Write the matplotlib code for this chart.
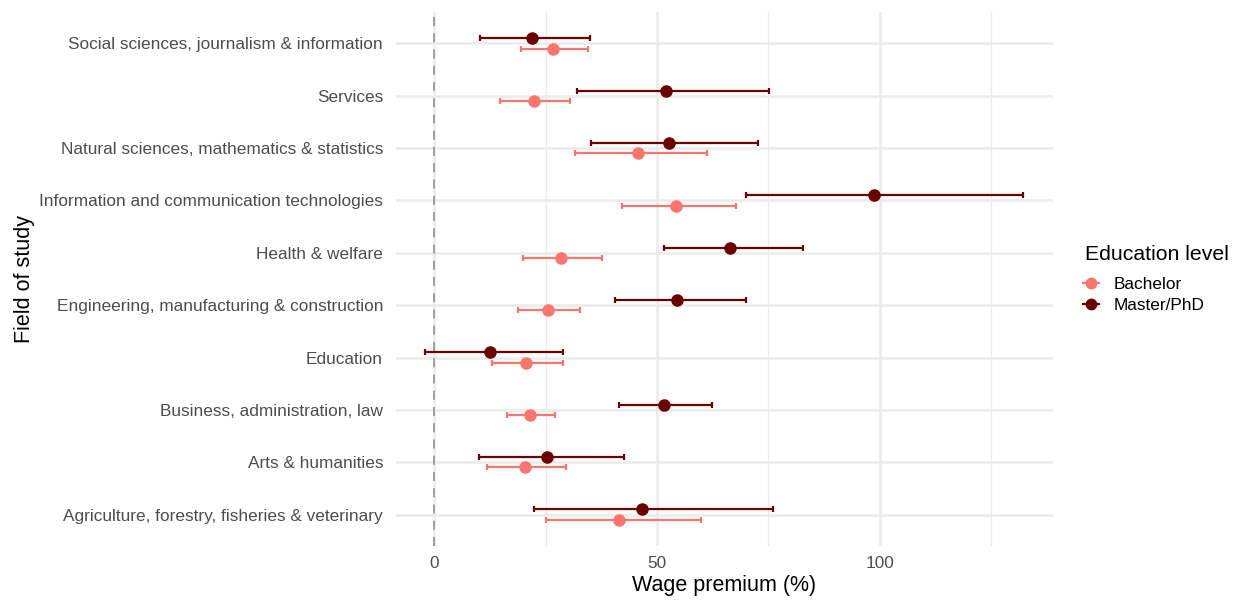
import numpy as np
import matplotlib.pyplot as plt
from matplotlib.lines import Line2D

plt.rcParams['font.family'] = ['Liberation Sans', 'DejaVu Sans']

# Fields of study, bottom to top as drawn
fields = [
    "Agriculture, forestry, fisheries & veterinary",
    "Arts & humanities",
    "Business, administration, law",
    "Education",
    "Engineering, manufacturing & construction",
    "Health & welfare",
    "Information and communication technologies",
    "Natural sciences, mathematics & statistics",
    "Services",
    "Social sciences, journalism & information",
]

# Wage premium estimates (%) with 95% confidence bounds
bachelor_est = [41.4, 20.3, 21.6, 20.6, 25.5, 28.4, 54.3, 45.8, 22.4, 26.7]
bachelor_lo = [25.1, 11.8, 16.3, 12.9, 18.8, 19.9, 42.1, 31.7, 14.7, 19.4]
bachelor_hi = [59.8, 29.5, 27.2, 28.9, 32.7, 37.7, 67.7, 61.3, 30.5, 34.5]

master_est = [46.7, 25.2, 51.7, 12.4, 54.6, 66.4, 98.7, 52.7, 52.0, 21.9]
master_lo = [22.3, 10.0, 41.5, -2.0, 40.6, 51.7, 69.9, 35.1, 32.0, 10.3]
master_hi = [76.1, 42.7, 62.4, 28.9, 70.1, 82.8, 132.2, 72.8, 75.1, 34.9]

levels = ["Bachelor", "Master/PhD"]
colors = {"Bachelor": "#F8766D", "Master/PhD": "#6B0000"}

fig = plt.figure(figsize=(12.4, 6), dpi=100)
ax = fig.add_axes([0.319, 0.09, 0.530, 0.89])

y = np.arange(len(fields))
series = {
    "Bachelor": (bachelor_est, bachelor_lo, bachelor_hi, -0.1),
    "Master/PhD": (master_est, master_lo, master_hi, 0.1),
}

ax.axvline(0, color="#9A9A9A", linestyle=(0, (5, 4)), linewidth=1.3, zorder=1)

for lvl in levels:
    est, lo, hi, off = series[lvl]
    est = np.array(est)
    err = [est - np.array(lo), np.array(hi) - est]
    ax.errorbar(est, y + off, xerr=err, fmt="o", color=colors[lvl],
                ecolor=colors[lvl], elinewidth=1.6, capsize=2.5, capthick=1.6,
                markersize=8, zorder=3)

# theme_minimal style grid
ax.set_xlim(-8.7, 138.9)
ax.set_ylim(-0.6, len(fields) - 0.4)
ax.set_xticks([0, 50, 100])
ax.set_xticks([25, 75, 125], minor=True)
ax.set_yticks(y)
ax.set_yticklabels(fields)
ax.grid(which="major", color="#EBEBEB", linewidth=1.8, zorder=0)
ax.grid(which="minor", axis="x", color="#EBEBEB", linewidth=0.9, zorder=0)
ax.set_axisbelow(True)
for s in ax.spines.values():
    s.set_visible(False)
ax.tick_params(which="both", length=0)
ax.tick_params(axis="both", labelsize=12.4, labelcolor="#4D4D4D")
ax.tick_params(axis="y", pad=9)
ax.tick_params(axis="x", pad=7)

ax.set_xlabel("Wage premium (%)", fontsize=15.5, color="black", labelpad=3)
ax.set_ylabel("Field of study", fontsize=15.5, color="black", labelpad=3)

# legend: title placed as its own text, entries below it
fig.text(1085 / 1240, 1 - 254 / 600, "Education level", fontsize=15.3,
         va="center", ha="left")
handles = [Line2D([0], [0], color=colors[l], marker="o", markersize=7.5,
                  linewidth=1.6) for l in levels]
fig.legend(handles, levels, loc="center left",
           bbox_to_anchor=(1083 / 1240, 1 - 295 / 600), frameon=False,
           fontsize=12.4, borderpad=0, borderaxespad=0, handlelength=0.9,
           handletextpad=0.9, labelspacing=0.3)

fig.savefig("out.png", dpi=100)
